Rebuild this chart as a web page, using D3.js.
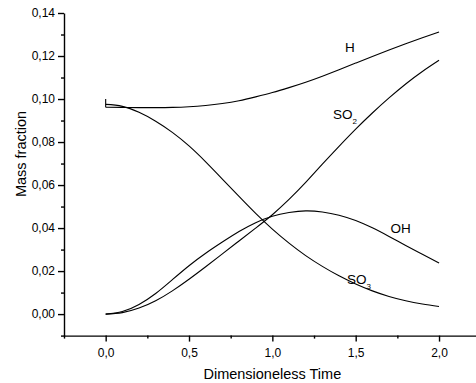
<!DOCTYPE html>
<html>
<head>
<meta charset="utf-8">
<script src="https://cdn.jsdelivr.net/npm/d3@7"></script>
<style>
  body { margin: 0; background: #fff; }
  svg { display: block; font-family: Arial, "Liberation Sans", sans-serif; }
  .axis path, .axis line { stroke: #000; }
  .axis text { font-size: 12px; fill: #000; }
  .curve { fill: none; stroke: #000; stroke-width: 1.1; }
  .axis-title { font-size: 14.5px; fill: #000; }
  .series-label { font-size: 13.5px; fill: #000; }
</style>
</head>
<body>
<div id="chart"></div>
<script>
// dimensionless time samples
const times = [0, 0.1, 0.2, 0.3, 0.4, 0.5, 0.6, 0.7, 0.8, 0.9, 1.0,
               1.1, 1.2, 1.3, 1.4, 1.5, 1.6, 1.7, 1.8, 1.9, 2.0];

// mass fractions
const hStart = 0.100;
const hValues   = [0.0962, 0.0961, 0.0960, 0.0960, 0.0961, 0.0964, 0.0970, 0.0979, 0.0992, 0.1010, 0.1030,
                   0.1053, 0.1078, 0.1106, 0.1136, 0.1167, 0.1198, 0.1228, 0.1257, 0.1285, 0.1312];
const so2Values = [0.0000, 0.0007, 0.0028, 0.0062, 0.0108, 0.0162, 0.0220, 0.0280, 0.0340, 0.0400, 0.0462,
                   0.0533, 0.0612, 0.0697, 0.0780, 0.0860, 0.0935, 0.1005, 0.1070, 0.1128, 0.1180];
const ohValues  = [0.0000, 0.0012, 0.0045, 0.0096, 0.0160, 0.0225, 0.0283, 0.0335, 0.0384, 0.0425, 0.0455,
                   0.0472, 0.0480, 0.0475, 0.0460, 0.0435, 0.0401, 0.0361, 0.0319, 0.0278, 0.0237];
const so3Values = [0.0975, 0.0966, 0.0938, 0.0897, 0.0845, 0.0782, 0.0708, 0.0628, 0.0547, 0.0468, 0.0395,
                   0.0330, 0.0272, 0.0222, 0.0178, 0.0140, 0.0108, 0.0082, 0.0062, 0.0047, 0.0035];

const xTicks = [0, 0.5, 1.0, 1.5, 2.0];
const xMinorTicks = [-0.25, 0.25, 0.75, 1.25, 1.75];
const yTicks = [0, 0.02, 0.04, 0.06, 0.08, 0.10, 0.12, 0.14];
const yMinorTicks = [-0.01, 0.01, 0.03, 0.05, 0.07, 0.09, 0.11, 0.13];

const width = 476, height = 383;

const svg = d3.select('#chart').append('svg')
    .attr('width', width)
    .attr('height', height);

const x = d3.scaleLinear().domain([-0.25, 2.25]).range([64, 480.7]);
const y = d3.scaleLinear().domain([-0.01, 0.14]).range([335.6, 13]);

const comma = f => v => d3.format(f)(v).replace('.', ',');

// axes
const xAxisG = svg.append('g')
    .attr('class', 'axis')
    .attr('transform', `translate(0,${y(-0.01)})`);
xAxisG.call(d3.axisBottom(x).tickValues(xTicks).tickFormat(comma('.1f'))
    .tickSize(6).tickSizeOuter(0).tickPadding(7));
xAxisG.call(g => g.selectAll('path, line').attr('stroke-width', 1.4));

const xMinorG = svg.append('g')
    .attr('class', 'axis')
    .attr('transform', `translate(0,${y(-0.01)})`)
    .call(d3.axisBottom(x).tickValues(xMinorTicks).tickFormat('').tickSize(3).tickSizeOuter(0));
xMinorG.select('.domain').remove();
xMinorG.selectAll('line').attr('stroke-width', 1.4);

const yAxisG = svg.append('g')
    .attr('class', 'axis')
    .attr('transform', `translate(${x(-0.25)},0)`);
yAxisG.call(d3.axisLeft(y).tickValues(yTicks).tickFormat(comma('.2f'))
    .tickSize(6).tickSizeOuter(0).tickPadding(3));
yAxisG.call(g => g.selectAll('path, line').attr('stroke-width', 1.4));

const yMinorG = svg.append('g')
    .attr('class', 'axis')
    .attr('transform', `translate(${x(-0.25)},0)`)
    .call(d3.axisLeft(y).tickValues(yMinorTicks).tickFormat('').tickSize(3).tickSizeOuter(0));
yMinorG.select('.domain').remove();
yMinorG.selectAll('line').attr('stroke-width', 1.4);

// axis titles
svg.append('text')
    .attr('class', 'axis-title')
    .attr('x', x(1.0))
    .attr('y', 379)
    .attr('text-anchor', 'middle')
    .text('Dimensioneless Time');

svg.append('text')
    .attr('class', 'axis-title')
    .attr('transform', 'translate(26,154) rotate(-90)')
    .attr('text-anchor', 'middle')
    .text('Mass fraction');

// curves
const line = d3.line()
    .x(d => x(d[0]))
    .y(d => y(d[1]))
    .curve(d3.curveNatural);

const series = [hValues, so2Values, ohValues, so3Values];
series.forEach(vals => {
  svg.append('path')
      .attr('class', 'curve')
      .attr('d', line(times.map((t, i) => [t, vals[i]])));
});

// initial jump of H at t = 0
svg.append('path')
    .attr('class', 'curve')
    .attr('d', d3.line().x(d => x(d[0])).y(d => y(d[1]))([[0, hStart], [0, hValues[0]]]));

// series labels
function label(px, py, main, sub) {
  const t = svg.append('text')
      .attr('class', 'series-label')
      .attr('x', px)
      .attr('y', py)
      .text(main);
  if (sub) {
    t.append('tspan')
        .attr('dy', 5)
        .style('font-size', '8px')
        .text(sub);
  }
}
label(345, 52, 'H');
label(333, 118.5, 'SO', '2');
label(390.5, 232.5, 'OH');
label(347, 283.5, 'SO', '3');
</script>
</body>
</html>
